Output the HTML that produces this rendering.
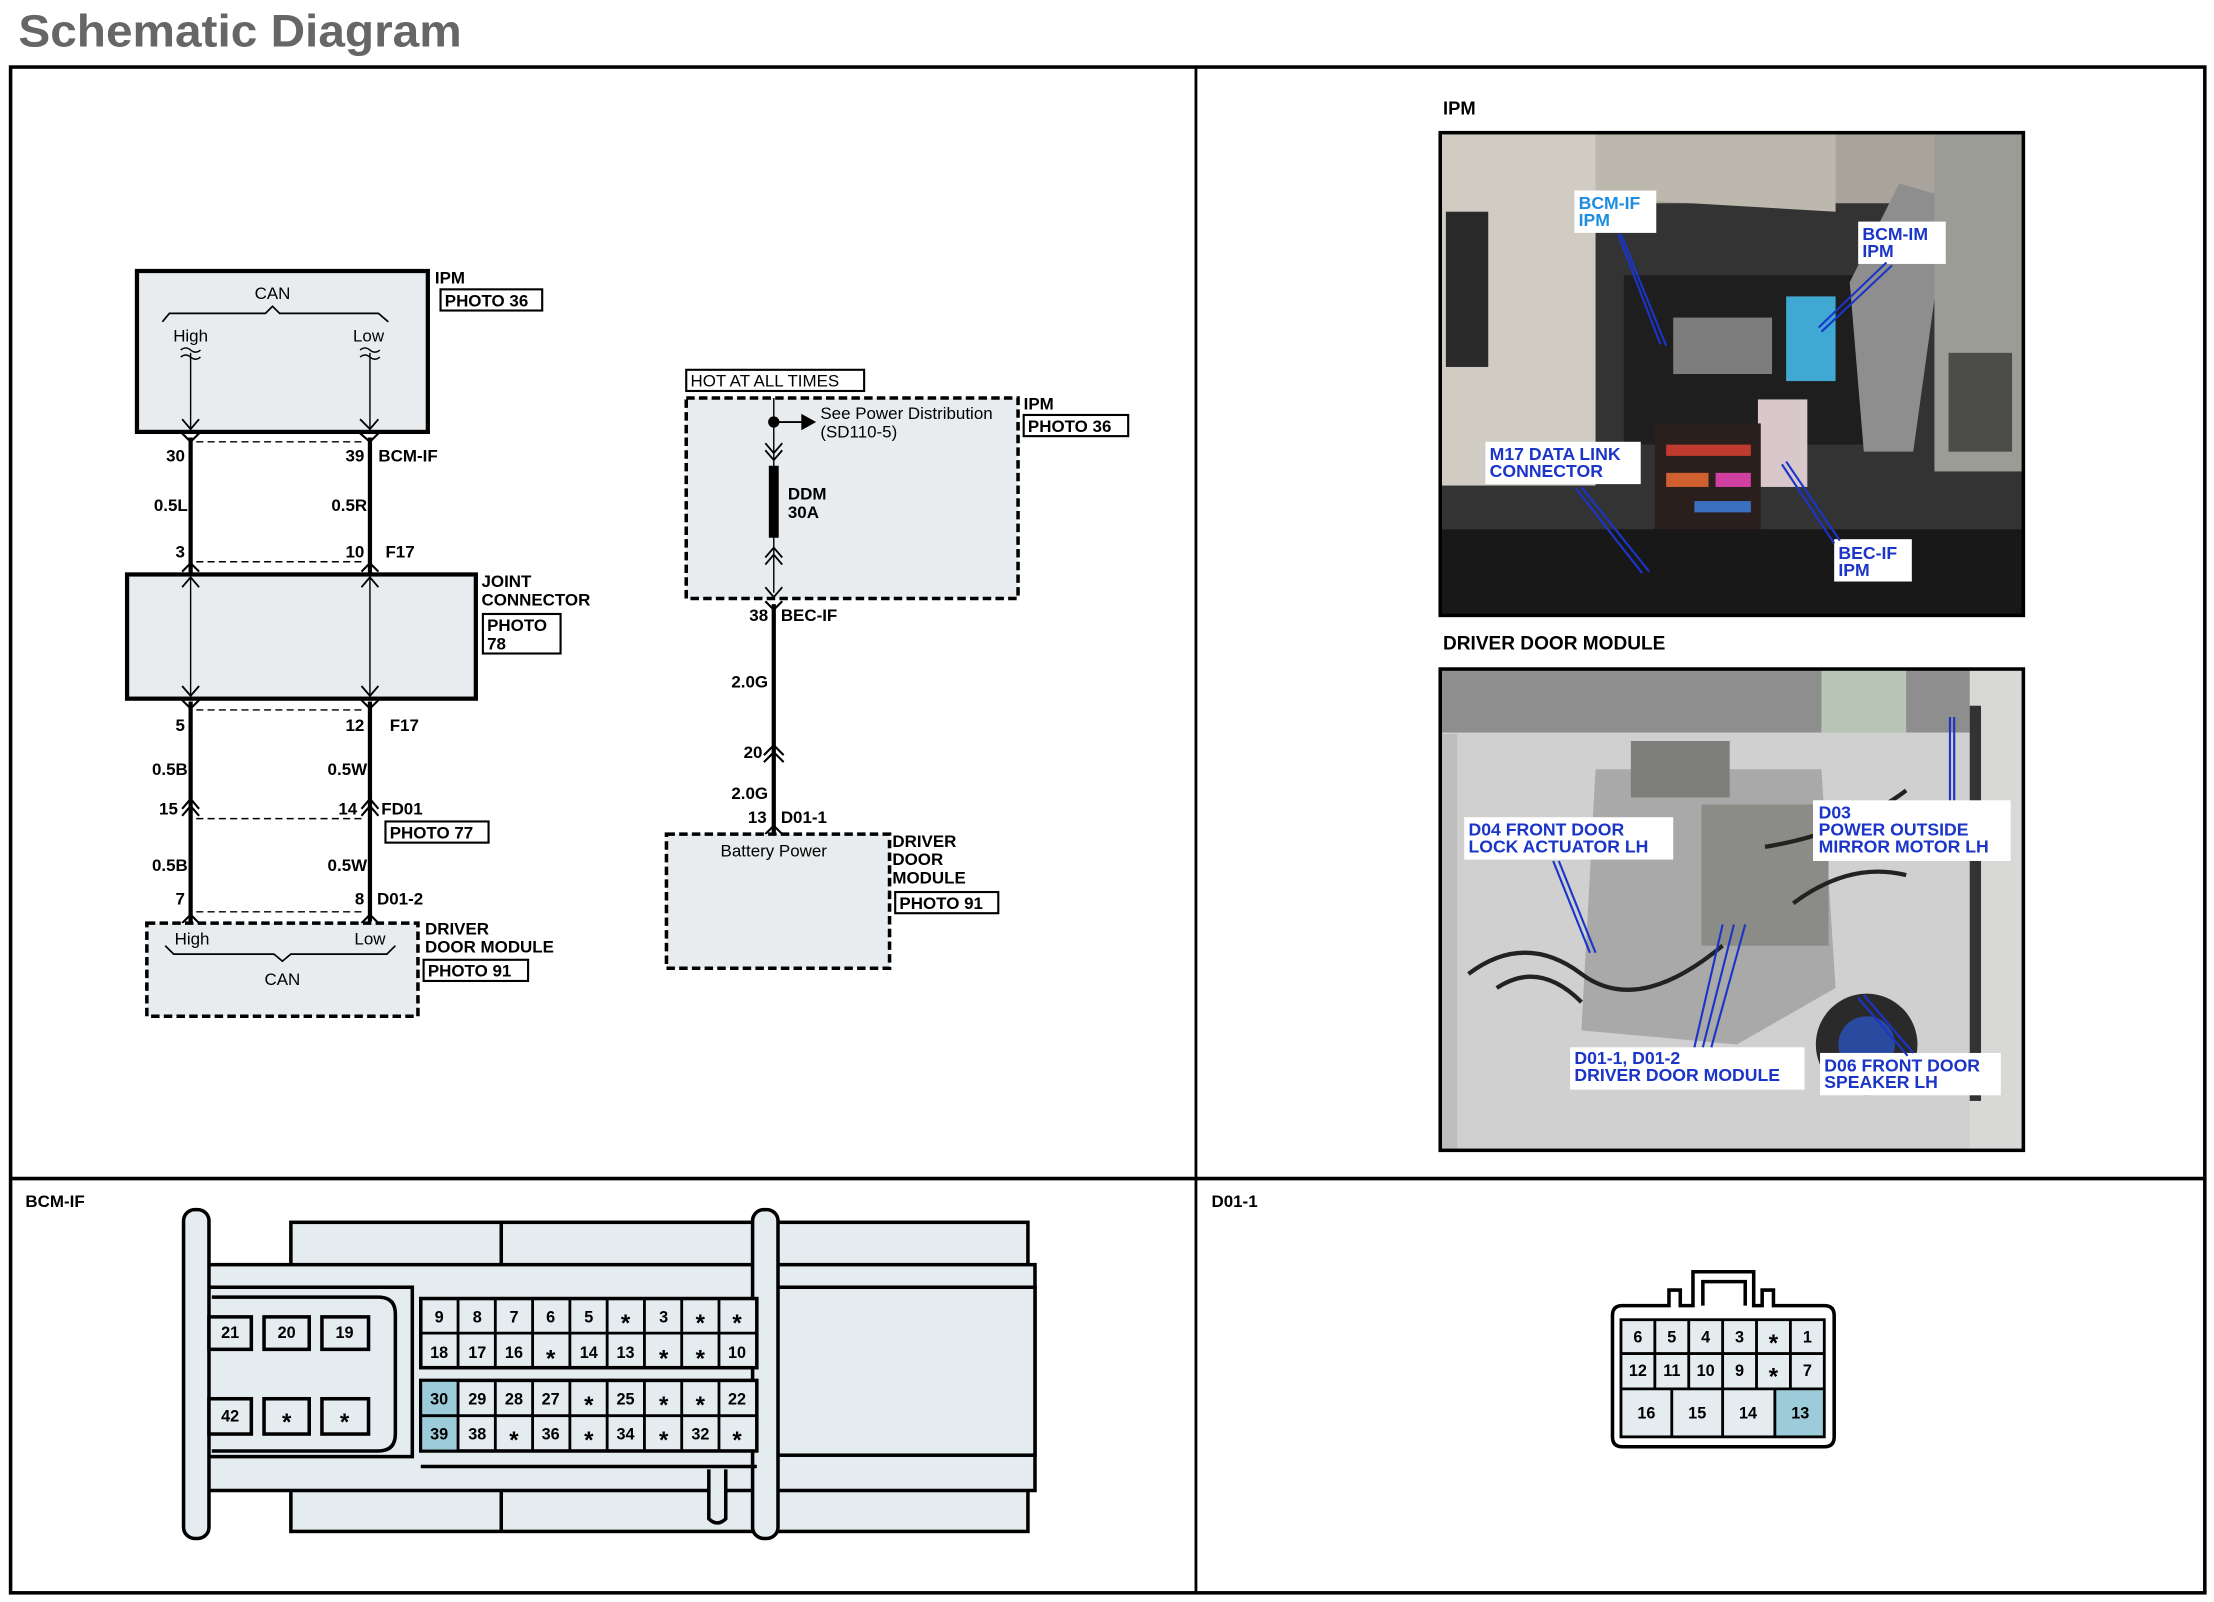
<!DOCTYPE html>
<html><head><meta charset="utf-8"><style>
html,body{margin:0;padding:0;background:#fff;}
svg{display:block;}
text{font-family:"Liberation Sans",Arial,sans-serif;}
.b{font-weight:bold;font-size:12px;fill:#000;}
.n{font-size:12px;fill:#000;}
.pl{font-weight:bold;font-size:12.5px;fill:#1a35c8;}
.c{font-weight:bold;font-size:11.5px;text-anchor:middle;fill:#000;}
.s{font-weight:bold;font-size:17px;text-anchor:middle;fill:#000;}
</style></head><body>
<svg width="2214" height="1602" viewBox="0 0 1568 1135" preserveAspectRatio="none" xmlns="http://www.w3.org/2000/svg">
<rect width="1568" height="1135" fill="#fff"/>
<text x="13" y="33" textLength="314" lengthAdjust="spacingAndGlyphs" style="font-size:32px;font-weight:bold;fill:#666">Schematic Diagram</text>
<!-- frame -->
<rect x="7.5" y="47.5" width="1554" height="1081" fill="none" stroke="#000" stroke-width="2.5"/>
<line x1="847" y1="47" x2="847" y2="1128" stroke="#000" stroke-width="2"/>
<line x1="7" y1="835" x2="1562" y2="835" stroke="#000" stroke-width="2.5"/>

<!-- ===== LEFT SCHEMATIC ===== -->
<g stroke="#000" fill="none">
<rect x="97" y="192" width="206" height="114" fill="#e9ecee" stroke-width="3"/>
<path d="M115 228 L120 222 L188 222 L193 217 L198 222 L268 222 L275 228" stroke-width="1.2"/>
<path d="M128 248 q3.5 -3 7 0 t7 0 M128 253 q3.5 -3 7 0 t7 0 M255 248 q3.5 -3 7 0 t7 0 M255 253 q3.5 -3 7 0 t7 0" stroke-width="1"/>
<line x1="135" y1="250" x2="135" y2="306" stroke-width="1"/>
<line x1="262" y1="250" x2="262" y2="306" stroke-width="1"/>
<path d="M129 297 L135 304 L141 297 M255 297 L262 304 L268 297" stroke-width="1.3"/>
<path d="M129 307 L135 313 L141 307 M255 307 L262 313 L268 307" stroke-width="1.5"/>
<line x1="135" y1="310" x2="135" y2="407" stroke-width="3"/>
<line x1="262" y1="310" x2="262" y2="407" stroke-width="3"/>
<line x1="139" y1="313" x2="258" y2="313" stroke-width="1" stroke-dasharray="5,3"/>
<line x1="139" y1="398" x2="258" y2="398" stroke-width="1" stroke-dasharray="5,3"/>
<path d="M129 405 L135 399 L141 405 M256 405 L262 399 L268 405" stroke-width="1.5"/>
<rect x="90" y="407" width="247" height="88" fill="#e9ecee" stroke-width="3"/>
<line x1="135" y1="408" x2="135" y2="494" stroke-width="1"/>
<line x1="262" y1="408" x2="262" y2="494" stroke-width="1"/>
<path d="M129 416 L135 409 L141 416 M256 416 L262 409 L268 416 M129 486 L135 493 L141 486 M256 486 L262 493 L268 486" stroke-width="1.3"/>
<path d="M129 496 L135 502 L141 496 M256 496 L262 502 L268 496" stroke-width="1.5"/>
<line x1="135" y1="497" x2="135" y2="653" stroke-width="3"/>
<line x1="262" y1="497" x2="262" y2="653" stroke-width="3"/>
<line x1="139" y1="503" x2="258" y2="503" stroke-width="1" stroke-dasharray="5,3"/>
<path d="M129 578 L135 571 L141 578 M129 573 L135 566 L141 573 M256 578 L262 571 L268 578 M256 573 L262 566 L268 573" stroke-width="1.5"/>
<line x1="139" y1="580" x2="258" y2="580" stroke-width="1" stroke-dasharray="5,3"/>
<line x1="139" y1="646" x2="258" y2="646" stroke-width="1" stroke-dasharray="5,3"/>
<path d="M129 654 L135 648 L141 654 M256 654 L262 648 L268 654" stroke-width="1.5"/>
<rect x="104" y="654" width="192" height="66" fill="#e9ecee" stroke-width="2.5" stroke-dasharray="6,3"/>
<path d="M117 670 L123 676 L194 676 L200 681 L206 676 L274 676 L280 670" stroke-width="1.2"/>
<rect x="312" y="205" width="72" height="15" stroke-width="1.5"/>
<rect x="342" y="435" width="55" height="28" stroke-width="1.5"/>
<rect x="273" y="582" width="73" height="15" stroke-width="1.5"/>
<rect x="300" y="680" width="74" height="15" stroke-width="1.5"/>
</g>
<text x="193" y="212" class="n" text-anchor="middle">CAN</text>
<text x="135" y="242" class="n" text-anchor="middle">High</text>
<text x="261" y="242" class="n" text-anchor="middle">Low</text>
<text x="308" y="201" class="b">IPM</text>
<text x="315" y="217" class="b">PHOTO 36</text>
<text x="131" y="327" class="b" text-anchor="end">30</text>
<text x="258" y="327" class="b" text-anchor="end">39</text>
<text x="268" y="327" class="b">BCM-IF</text>
<text x="133" y="362" class="b" text-anchor="end">0.5L</text>
<text x="260" y="362" class="b" text-anchor="end">0.5R</text>
<text x="131" y="395" class="b" text-anchor="end">3</text>
<text x="258" y="395" class="b" text-anchor="end">10</text>
<text x="273" y="395" class="b">F17</text>
<text x="341" y="416" class="b">JOINT</text>
<text x="341" y="429" class="b">CONNECTOR</text>
<text x="345" y="447" class="b">PHOTO</text>
<text x="345" y="460" class="b">78</text>
<text x="131" y="518" class="b" text-anchor="end">5</text>
<text x="258" y="518" class="b" text-anchor="end">12</text>
<text x="276" y="518" class="b">F17</text>
<text x="133" y="549" class="b" text-anchor="end">0.5B</text>
<text x="260" y="549" class="b" text-anchor="end">0.5W</text>
<text x="126" y="577" class="b" text-anchor="end">15</text>
<text x="253" y="577" class="b" text-anchor="end">14</text>
<text x="270" y="577" class="b">FD01</text>
<text x="276" y="594" class="b">PHOTO 77</text>
<text x="133" y="617" class="b" text-anchor="end">0.5B</text>
<text x="260" y="617" class="b" text-anchor="end">0.5W</text>
<text x="131" y="641" class="b" text-anchor="end">7</text>
<text x="258" y="641" class="b" text-anchor="end">8</text>
<text x="267" y="641" class="b">D01-2</text>
<text x="136" y="669" class="n" text-anchor="middle">High</text>
<text x="262" y="669" class="n" text-anchor="middle">Low</text>
<text x="200" y="698" class="n" text-anchor="middle">CAN</text>
<text x="301" y="662" class="b">DRIVER</text>
<text x="301" y="675" class="b">DOOR MODULE</text>
<text x="303" y="692" class="b">PHOTO 91</text>

<!-- ===== RIGHT SCHEMATIC ===== -->
<g stroke="#000" fill="none">
<rect x="486" y="262" width="126" height="15" stroke-width="1.5"/>
<rect x="486" y="282" width="235" height="142" fill="#e9ecee" stroke-width="2.5" stroke-dasharray="6,3"/>
<line x1="548" y1="282" x2="548" y2="420" stroke-width="1"/>
<line x1="548" y1="299" x2="570" y2="299" stroke-width="1.3"/>
<path d="M568 294 L577 299 L568 304 Z" fill="#000"/>
<circle cx="548" cy="299" r="3.5" fill="#000"/>
<path d="M542 314 L548 321 L554 314 M542 319 L548 326 L554 319" stroke-width="1.3"/>
<line x1="548" y1="330" x2="548" y2="381" stroke-width="7"/>
<path d="M542 395 L548 388 L554 395 M542 400 L548 393 L554 400" stroke-width="1.3"/>
<path d="M542 416 L548 423 L554 416" stroke-width="1.3"/>
<path d="M542 426 L548 432 L554 426" stroke-width="1.5"/>
<line x1="548" y1="428" x2="548" y2="590" stroke-width="3"/>
<path d="M541 540 L548 533 L555 540 M541 535 L548 528 L555 535" stroke-width="1.5"/>
<path d="M542 591 L548 585 L554 591" stroke-width="1.5"/>
<rect x="472" y="591" width="158" height="95" fill="#e9ecee" stroke-width="2.5" stroke-dasharray="6,3"/>
<rect x="725" y="294" width="74" height="15" stroke-width="1.5"/>
<rect x="634" y="632" width="73" height="15" stroke-width="1.5"/>
</g>
<text x="489" y="274" class="n">HOT AT ALL TIMES</text>
<text x="581" y="297" class="n">See Power Distribution</text>
<text x="581" y="310" class="n">(SD110-5)</text>
<text x="558" y="354" class="b">DDM</text>
<text x="558" y="367" class="b">30A</text>
<text x="725" y="290" class="b">IPM</text>
<text x="728" y="306" class="b">PHOTO 36</text>
<text x="544" y="440" class="b" text-anchor="end">38</text>
<text x="553" y="440" class="b">BEC-IF</text>
<text x="544" y="487" class="b" text-anchor="end">2.0G</text>
<text x="540" y="537" class="b" text-anchor="end">20</text>
<text x="544" y="566" class="b" text-anchor="end">2.0G</text>
<text x="543" y="583" class="b" text-anchor="end">13</text>
<text x="553" y="583" class="b">D01-1</text>
<text x="548" y="607" class="n" text-anchor="middle">Battery Power</text>
<text x="632" y="600" class="b">DRIVER</text>
<text x="632" y="613" class="b">DOOR</text>
<text x="632" y="626" class="b">MODULE</text>
<text x="637" y="644" class="b">PHOTO 91</text>

<!-- ===== PHOTOS ===== -->
<text x="1022" y="81" class="b" style="font-size:13px">IPM</text>
<g>
<rect x="1020" y="94" width="413" height="342" fill="#333"/>
<rect x="1020" y="94" width="413" height="50" fill="#a8a49c"/>
<rect x="1020" y="94" width="110" height="250" fill="#d0ccc4"/>
<rect x="1024" y="150" width="30" height="110" fill="#2a2a2a"/>
<polygon points="1130,94 1300,94 1300,150 1130,140" fill="#bdb8ae"/>
<rect x="1150" y="195" width="200" height="120" fill="#1e1e1e"/>
<rect x="1185" y="225" width="70" height="40" fill="#7c7c7c"/>
<polygon points="1310,200 1345,130 1380,140 1355,320 1320,320" fill="#8e8e8e"/>
<rect x="1370" y="94" width="63" height="240" fill="#9c9c96"/>
<rect x="1380" y="250" width="45" height="70" fill="#4c4c48"/>
<rect x="1265" y="210" width="35" height="60" fill="#3fa9d4"/>
<rect x="1245" y="283" width="35" height="62" fill="#d8c8cc"/>
<rect x="1172" y="300" width="75" height="90" fill="#2a1f1c"/>
<rect x="1180" y="315" width="60" height="8" fill="#c03a30"/>
<rect x="1180" y="335" width="30" height="10" fill="#d06030"/>
<rect x="1215" y="335" width="25" height="10" fill="#d040a0"/>
<rect x="1200" y="355" width="40" height="8" fill="#3a70c0"/>
<rect x="1020" y="375" width="413" height="61" fill="#181818"/>
<rect x="1020" y="94" width="413" height="342" fill="none" stroke="#000" stroke-width="2.5"/>
<g fill="#fff">
<rect x="1115" y="135" width="58" height="30"/>
<rect x="1316" y="157" width="62" height="30"/>
<rect x="1052" y="313" width="110" height="30"/>
<rect x="1299" y="382" width="55" height="30"/>
</g>
<g stroke="#1a35c8" stroke-width="1.5" fill="none">
<path d="M1148 166 L1180 245 M1146 166 L1176 244"/>
<path d="M1340 188 L1290 235 M1336 186 L1288 232"/>
<path d="M1120 345 L1168 405 M1116 346 L1163 406"/>
<path d="M1303 383 L1265 327 M1299 385 L1262 329"/>
</g>
<text x="1118" y="148" class="pl" style="fill:#1f8ee0">BCM-IF</text>
<text x="1118" y="160" class="pl" style="fill:#1f8ee0">IPM</text>
<text x="1319" y="170" class="pl">BCM-IM</text>
<text x="1319" y="182" class="pl">IPM</text>
<text x="1055" y="326" class="pl">M17 DATA LINK</text>
<text x="1055" y="338" class="pl">CONNECTOR</text>
<text x="1302" y="396" class="pl">BEC-IF</text>
<text x="1302" y="408" class="pl">IPM</text>
</g>

<text x="1022" y="460" class="b" style="font-size:13.5px">DRIVER DOOR MODULE</text>
<g>
<rect x="1020" y="474" width="413" height="341" fill="#cfd0cf"/>
<rect x="1020" y="474" width="413" height="45" fill="#8e8e8e"/>
<rect x="1290" y="474" width="60" height="45" fill="#b8c6b8"/>
<rect x="1020" y="520" width="12" height="295" fill="#bdbdbd"/>
<polygon points="1130,545 1290,545 1300,700 1230,740 1120,730" fill="#a9a9a9"/>
<rect x="1155" y="525" width="70" height="40" fill="#7e7e7a"/>
<rect x="1205" y="570" width="90" height="100" fill="#8b8b88"/>
<path d="M1040 690 q40 -30 80 0 t100 -20 M1060 700 q30 -20 60 10" stroke="#222" stroke-width="3" fill="none"/>
<path d="M1270 640 q40 -30 80 -20 M1250 600 q60 -10 100 -40" stroke="#222" stroke-width="3" fill="none"/>
<rect x="1395" y="474" width="38" height="341" fill="#d8d8d6"/>
<rect x="1395" y="500" width="8" height="280" fill="#333"/>
<circle cx="1322" cy="740" r="36" fill="#2a2a2a"/>
<circle cx="1322" cy="740" r="20" fill="#2a4aa0"/>
<rect x="1020" y="474" width="413" height="341" fill="none" stroke="#000" stroke-width="2.5"/>
<g fill="#fff">
<rect x="1037" y="579" width="148" height="30"/>
<rect x="1284" y="567" width="140" height="43"/>
<rect x="1112" y="742" width="166" height="30"/>
<rect x="1289" y="746" width="128" height="30"/>
</g>
<g stroke="#1a35c8" stroke-width="1.5" fill="none">
<path d="M1104 610 L1130 675 M1100 610 L1126 675"/>
<path d="M1384 567 L1384 508 M1381 567 L1381 508"/>
<path d="M1200 742 L1220 655 M1206 742 L1228 655 M1212 742 L1236 655"/>
<path d="M1355 746 L1320 705 M1351 748 L1316 707"/>
</g>
<text x="1040" y="592" class="pl">D04 FRONT DOOR</text>
<text x="1040" y="604" class="pl">LOCK ACTUATOR LH</text>
<text x="1288" y="580" class="pl">D03</text>
<text x="1288" y="592" class="pl">POWER OUTSIDE</text>
<text x="1288" y="604" class="pl">MIRROR MOTOR LH</text>
<text x="1115" y="754" class="pl">D01-1, D01-2</text>
<text x="1115" y="766" class="pl">DRIVER DOOR MODULE</text>
<text x="1292" y="759" class="pl">D06 FRONT DOOR</text>
<text x="1292" y="771" class="pl">SPEAKER LH</text>
</g>

<!-- ===== BCM-IF CONNECTOR ===== -->
<text x="18" y="855" class="b">BCM-IF</text>
<g stroke="#000" stroke-width="2.5" fill="#e4ecef">
<rect x="206" y="866" width="522" height="31"/>
<line x1="355" y1="866" x2="355" y2="897"/>
<rect x="206" y="1055" width="522" height="30"/>
<line x1="355" y1="1055" x2="355" y2="1085"/>
<rect x="145" y="896" width="588" height="160"/>
<rect x="136" y="912" width="156" height="120"/>
<path d="M150 919 L268 919 Q280 919 280 931 L280 1016 Q280 1028 268 1028 L150 1028" fill="none"/>
<rect x="541" y="912" width="192" height="119"/>
<rect x="130" y="857" width="18" height="233" rx="8"/>
<rect x="533" y="857" width="18" height="233" rx="8"/>
<path d="M502 1041 L502 1076 Q508 1082 514 1076 L514 1041"/>
<line x1="298" y1="1039" x2="536" y2="1039"/>
</g>
<g stroke="#000" stroke-width="2.5" fill="#e4ecef">
<rect x="148" y="933" width="30" height="23"/><rect x="187" y="933" width="32" height="23"/><rect x="228" y="933" width="33" height="23"/>
<rect x="148" y="991" width="30" height="25"/><rect x="187" y="991" width="32" height="25"/><rect x="228" y="991" width="33" height="25"/>
</g>
<text x="163" y="948" class="c">21</text><text x="203" y="948" class="c">20</text><text x="244" y="948" class="c">19</text>
<text x="163" y="1007" class="c">42</text><text x="203" y="1013" class="s">*</text><text x="244" y="1013" class="s">*</text>
<g stroke="#000" stroke-width="2.5" fill="#e4ecef">
<rect x="298" y="920" width="238" height="49"/>
<rect x="298" y="978" width="238" height="50"/>
</g>
<rect x="299" y="979" width="25" height="48" fill="#9ccbd9"/>
<g stroke="#000" stroke-width="2" fill="none">
<line x1="298" y1="944.5" x2="536" y2="944.5"/><line x1="298" y1="1003" x2="536" y2="1003"/>
<path d="M324.4 920v49M350.8 920v49M377.2 920v49M403.6 920v49M430 920v49M456.4 920v49M482.8 920v49M509.2 920v49"/>
<path d="M324.4 978v50M350.8 978v50M377.2 978v50M403.6 978v50M430 978v50M456.4 978v50M482.8 978v50M509.2 978v50"/>
</g>
<g>
<text x="311" y="937" class="c">9</text><text x="338" y="937" class="c">8</text><text x="364" y="937" class="c">7</text><text x="390" y="937" class="c">6</text><text x="417" y="937" class="c">5</text><text x="443" y="943" class="s">*</text><text x="470" y="937" class="c">3</text><text x="496" y="943" class="s">*</text><text x="522" y="943" class="s">*</text>
<text x="311" y="962" class="c">18</text><text x="338" y="962" class="c">17</text><text x="364" y="962" class="c">16</text><text x="390" y="968" class="s">*</text><text x="417" y="962" class="c">14</text><text x="443" y="962" class="c">13</text><text x="470" y="968" class="s">*</text><text x="496" y="968" class="s">*</text><text x="522" y="962" class="c">10</text>
<text x="311" y="995" class="c">30</text><text x="338" y="995" class="c">29</text><text x="364" y="995" class="c">28</text><text x="390" y="995" class="c">27</text><text x="417" y="1001" class="s">*</text><text x="443" y="995" class="c">25</text><text x="470" y="1001" class="s">*</text><text x="496" y="1001" class="s">*</text><text x="522" y="995" class="c">22</text>
<text x="311" y="1020" class="c">39</text><text x="338" y="1020" class="c">38</text><text x="364" y="1026" class="s">*</text><text x="390" y="1020" class="c">36</text><text x="417" y="1026" class="s">*</text><text x="443" y="1020" class="c">34</text><text x="470" y="1026" class="s">*</text><text x="496" y="1020" class="c">32</text><text x="522" y="1026" class="s">*</text>
</g>

<!-- ===== D01-1 CONNECTOR ===== -->
<text x="858" y="855" class="b">D01-1</text>
<g stroke="#000" stroke-width="2.5" fill="#fff">
<path d="M1148 925 L1182 925 L1182 914 L1190 914 L1190 925 L1199 925 L1199 901 L1242 901 L1242 925 L1248 925 L1248 914 L1256 914 L1256 925 L1292 925 Q1299 925 1299 932 L1299 1018 Q1299 1025 1292 1025 L1149 1025 Q1142 1025 1142 1018 L1142 932 Q1142 925 1149 925 Z"/>
<path d="M1206 925 L1206 908 L1236 908 L1236 925" fill="none"/>
</g>
<rect x="1148" y="935" width="144" height="83" fill="#e4ecef"/>
<rect x="1257" y="985" width="35" height="33" fill="#9ccbd9"/>
<g stroke="#000" stroke-width="2" fill="none">
<rect x="1148" y="935" width="144" height="83"/>
<line x1="1148" y1="959" x2="1292" y2="959"/><line x1="1148" y1="984" x2="1292" y2="984"/>
<path d="M1172 935v49M1196 935v49M1220 935v49M1244 935v49M1268 935v49M1184 984v34M1220 984v34M1257 984v34"/>
</g>
<g>
<text x="1160" y="951" class="c">6</text><text x="1184" y="951" class="c">5</text><text x="1208" y="951" class="c">4</text><text x="1232" y="951" class="c">3</text><text x="1256" y="957" class="s">*</text><text x="1280" y="951" class="c">1</text>
<text x="1160" y="975" class="c">12</text><text x="1184" y="975" class="c">11</text><text x="1208" y="975" class="c">10</text><text x="1232" y="975" class="c">9</text><text x="1256" y="981" class="s">*</text><text x="1280" y="975" class="c">7</text>
<text x="1166" y="1005" class="c">16</text><text x="1202" y="1005" class="c">15</text><text x="1238" y="1005" class="c">14</text><text x="1275" y="1005" class="c">13</text>
</g>
</svg>
</body></html>
